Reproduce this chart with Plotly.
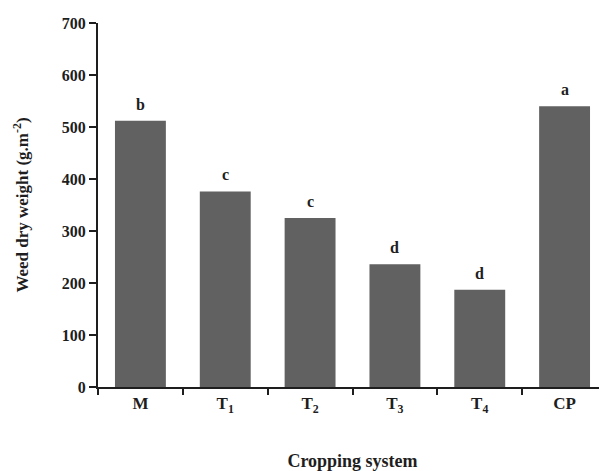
import plotly.graph_objects as go

categories = ["M", "T<sub>1</sub>", "T<sub>2</sub>", "T<sub>3</sub>", "T<sub>4</sub>", "CP"]
values = [512, 376, 325, 236, 187, 540]
letters = ["b", "c", "c", "d", "d", "a"]
y_ticks = [0, 100, 200, 300, 400, 500, 600, 700]

font_family = "Liberation Serif, Times New Roman, serif"
ink = "#1e1e1e"

fig = go.Figure(
    go.Bar(
        x=categories,
        y=values,
        marker=dict(color="#616161", line=dict(width=0)),
        width=0.6,
    )
)

for cat, val, let in zip(categories, values, letters):
    fig.add_annotation(
        x=cat, y=val, text=let, showarrow=False,
        yanchor="bottom", yshift=6,
        font=dict(family=font_family, size=16, color=ink, weight="bold"),
    )

# page has an 8px body margin, so the figure is shrunk/offset to match the reference frame
fig.update_layout(
    width=599,
    height=463,
    margin=dict(l=90, r=0, t=15, b=84),
    paper_bgcolor="white",
    plot_bgcolor="white",
    showlegend=False,
    font=dict(family=font_family, color=ink),
)

fig.update_xaxes(
    showline=True,
    linecolor=ink,
    linewidth=2,
    ticks="outside",
    tickson="boundaries",
    ticklen=6,
    tickwidth=2,
    tickcolor=ink,
    automargin=False,
    tickfont=dict(family=font_family, size=17, color=ink, weight="bold"),
    title=dict(text="Cropping system", font=dict(family=font_family, size=18, color=ink, weight="bold"), standoff=46),
    showgrid=False,
)

fig.update_yaxes(
    range=[0, 700],
    tickvals=y_ticks,
    showline=True,
    linecolor=ink,
    linewidth=2,
    ticks="outside",
    ticklen=7,
    tickwidth=2,
    tickcolor=ink,
    automargin=False,
    tickfont=dict(family=font_family, size=16, color=ink, weight="bold"),
    title=dict(text="Weed dry weight (g.m<sup>-2</sup>)", font=dict(family=font_family, size=17, color=ink, weight="bold"), standoff=29),
    showgrid=False,
    zeroline=False,
)

fig.write_html("out.html")
